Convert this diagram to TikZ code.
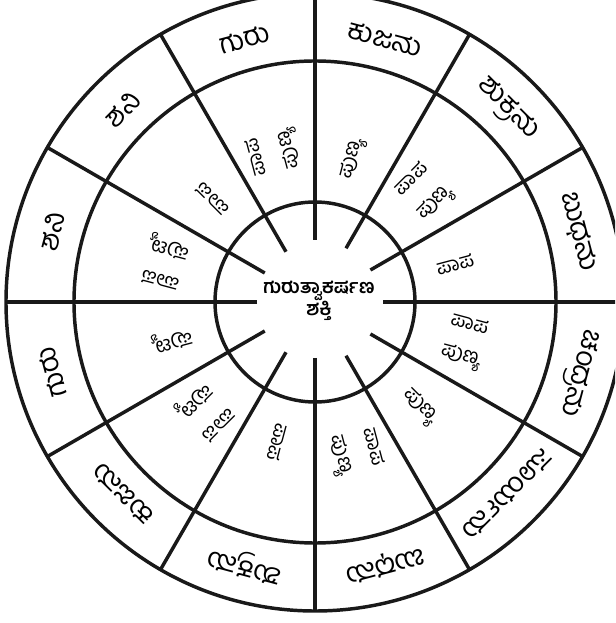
\documentclass[tikz,border=0pt]{standalone}
\usepackage{fontspec}
\newfontfamily\kn[Script=Kannada]{Hind Mysuru}

\begin{document}
\begin{tikzpicture}[
  x=0.75pt, y=0.75pt,
  ring/.style={draw=black!90, line width=2.6pt},
  spoke/.style={draw=black!90, line width=2.6pt},
  planet/.style={font=\kn\fontsize{21}{24}\selectfont, inner sep=1pt},
  fate/.style={font=\kn\fontsize{15.5}{24}\selectfont, align=center, inner sep=1pt},
  hub/.style={font=\kn\bfseries\fontsize{14.5}{17}\selectfont, align=center, inner sep=1pt}]
\useasboundingbox (-315,-321) rectangle (300,302);
\clip (-315,-321) rectangle (300,302);
% --- rings
\draw[ring] (0,0) circle[radius=309];
\draw[ring] (0,0) circle[radius=241];
\draw[ring] (0,0) circle[radius=100];
% --- spokes
\draw[spoke] (90:62) -- (90:310);
\draw[spoke] (60:62) -- (60:310);
\draw[spoke] (30:64) -- (30:310);
\draw[spoke] (0:68) -- (0:310);
\draw[spoke] (-30:64) -- (-30:310);
\draw[spoke] (-60:62) -- (-60:310);
\draw[spoke] (-90:56) -- (-90:310);
\draw[spoke] (-120:58) -- (-120:310);
\draw[spoke] (-150:58) -- (-150:310);
\draw[spoke] (180:58) -- (180:310);
\draw[spoke] (150:58) -- (150:310);
\draw[spoke] (120:58) -- (120:310);
% --- centre
\node[hub] (gk) at (4,1) {ಗುರುತ್ವಾಕರ್ಷಣ\\ಶಕ್ತಿ};
% --- outer ring: lords
\node[planet, rotate=-15] (kuja1) at (75:272) {ಕುಜನು};
\node[planet, rotate=-45] (shukra1) at (45:272) {ಶುಕ್ರನು};
\node[planet, rotate=-75] (budha1) at (15:272) {ಬುಧನು};
\node[planet, rotate=-105] (chandra) at (-15:272) {ಚಂದ್ರನು};
\node[planet, rotate=-135] (surya) at (-45:272) {ಸೂರ್ಯನು};
\node[planet, rotate=-165] (budha2) at (-75:272) {ಬುಧನು};
\node[planet, rotate=165] (shukra2) at (-105:272) {ಶುಕ್ರನು};
\node[planet, rotate=135] (kuja2) at (-135:272) {ಕುಜನು};
\node[planet, rotate=105] (guru2) at (-165:272) {ಗುರು};
\node[planet, rotate=75] (shani2) at (165:272) {ಶನಿ};
\node[planet, rotate=45] (shani1) at (135:272) {ಶನಿ};
\node[planet, rotate=15] (guru1) at (105:272) {ಗುರು};
% --- middle ring
\node[fate, rotate=75] (mid1) at (75:148) {ಪುಣ್ಯ};
\node[fate, rotate=45] (mid2) at (45:155) {ಪಾಪ\\ಪುಣ್ಯ};
\node[fate, rotate=15] (mid3) at (15:145) {ಪಾಪ};
\node[fate, rotate=-15] (mid4) at (-15:155) {ಪಾಪ\\ಪುಣ್ಯ};
\node[fate, rotate=-45] (mid5) at (-45:148) {ಪುಣ್ಯ};
\node[fate, rotate=-75] (mid6) at (-75:155) {ಪಾಪ\\ಪುಣ್ಯ};
\node[fate, rotate=-105] (mid7) at (-105:145) {ಪಾಪ};
\node[fate, rotate=-135] (mid8) at (-135:155) {ಪಾಪ\\ಪುಣ್ಯ};
\node[fate, rotate=-165] (mid9) at (-165:148) {ಪುಣ್ಯ};
\node[fate, rotate=165] (mid10) at (165:155) {ಪಾಪ\\ಪುಣ್ಯ};
\node[fate, rotate=135] (mid11) at (135:145) {ಪಾಪ};
\node[fate, rotate=105] (mid12) at (105:155) {ಪಾಪ\\ಪುಣ್ಯ};
\end{tikzpicture}
\end{document}
